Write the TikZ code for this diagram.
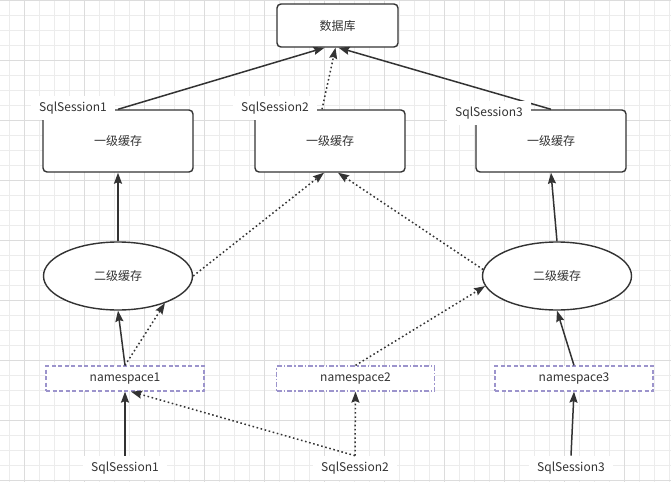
\documentclass[tikz,border=0pt]{standalone}
\usepackage{fontspec}
\setmainfont{Noto Sans CJK SC}
\usetikzlibrary{arrows.meta,shapes.geometric}
\definecolor{ink}{HTML}{333333}
\definecolor{nsline}{HTML}{9C94CC}
\definecolor{gridlo}{HTML}{ECECEC}
\definecolor{gridhi}{HTML}{DCDCDC}
\tikzset{x=1pt,y=-1pt,
 every node/.style={font=\fontsize{12}{14}\selectfont,text=ink},
 minorline/.style={gridlo,line width=.6pt},
 majorline/.style={gridhi,line width=.8pt},
 dbbox/.style={draw=ink,line width=1.4pt,rounded corners=4pt,fill=white,minimum width=121pt,minimum height=43pt},
 cachebox/.style={draw=ink,line width=1.4pt,rounded corners=4pt,fill=white,minimum width=150pt,minimum height=62pt},
 cacheoval/.style={ellipse,draw=ink,line width=1.4pt,fill=white,minimum width=149pt,minimum height=68pt,inner sep=0pt},
 nsbox/.style={draw=nsline,line width=1.2pt,dash pattern=on 4pt off 2.5pt,fill=white,minimum width=158pt,minimum height=25pt,inner sep=0pt},
 sessiontag/.style={fill=white,inner xsep=8pt,inner ysep=6pt},
 hitarrow/.style={-{Stealth[length=11pt,width=8pt,inset=1.5pt]},ink,line width=1.5pt},
 missarrow/.style={-{Stealth[length=11pt,width=8pt,inset=1.5pt]},ink,line width=1.5pt,dash pattern=on 1.6pt off 2.6pt}}

\begin{document}
\begin{tikzpicture}
\useasboundingbox (0,0) rectangle (671,482);
\foreach \gx in {9,24,...,669} \draw[minorline] (\gx,0) -- (\gx,482);
\foreach \gy in {0,15,...,480} \draw[minorline] (0,\gy) -- (671,\gy);
\foreach \gx in {24,84,...,624} \draw[majorline] (\gx,0) -- (\gx,482);
\foreach \gy in {0,60,...,480} \draw[majorline] (0,\gy) -- (671,\gy);

\node[dbbox] (db) at (337.5,25.5) {数据库};
\foreach \i/\x in {1/118,2/330,3/551}
 \node[cachebox] (c\i) at (\x,141) {一级缓存};
\node[cacheoval] (e1) at (118,276) {二级缓存};
\node[cacheoval] (e2) at (557,276) {二级缓存};
\node[nsbox] (n1) at (125,378.5) {namespace1};
\node[nsbox,dash pattern=on 5pt off 2pt on 1.5pt off 2pt] (n2) at (355.5,378.5) {namespace2};
\node[nsbox] (n3) at (574,378.5) {namespace3};

\draw[hitarrow] (c1.north) -- ([xshift=-13pt]db.south);
\draw[missarrow] ([xshift=-8pt]c2.north) -- ([xshift=-2pt]db.south);
\draw[hitarrow] (c3.north) -- ([xshift=1pt]db.south);
\draw[hitarrow] (e1.north) -- (c1.south);
\draw[missarrow] (e1.east) -- ([xshift=-6pt]c2.south);
\draw[missarrow] (e2.175) -- ([xshift=8pt]c2.south);
\draw[hitarrow] (e2.north) -- (c3.south);
\draw[hitarrow] (n1.north) -- (e1.south);
\draw[missarrow] (n1.north) -- (e1.-30);
\draw[missarrow] (n2.north) -- (e2.188);
\draw[hitarrow] (n3.north) -- (e2.south);

\node[sessiontag] (s1) at (73,108) {SqlSession1};
\node[sessiontag] (s2) at (275,108) {SqlSession2};
\node[sessiontag] (s3) at (489,113) {SqlSession3};

\node[sessiontag] (b1) at (125,468) {SqlSession1};
\node[sessiontag] (b2) at (355,468) {SqlSession2};
\node[sessiontag] (b3) at (571,468) {SqlSession3};
\draw[hitarrow] (b1.north) -- (n1.south);
\draw[missarrow] (b2.north) -- (n2.south);
\draw[missarrow] (b2.north) -- ([xshift=6pt]n1.south);
\draw[hitarrow] (b3.north) -- (n3.south);
\end{tikzpicture}
\end{document}
